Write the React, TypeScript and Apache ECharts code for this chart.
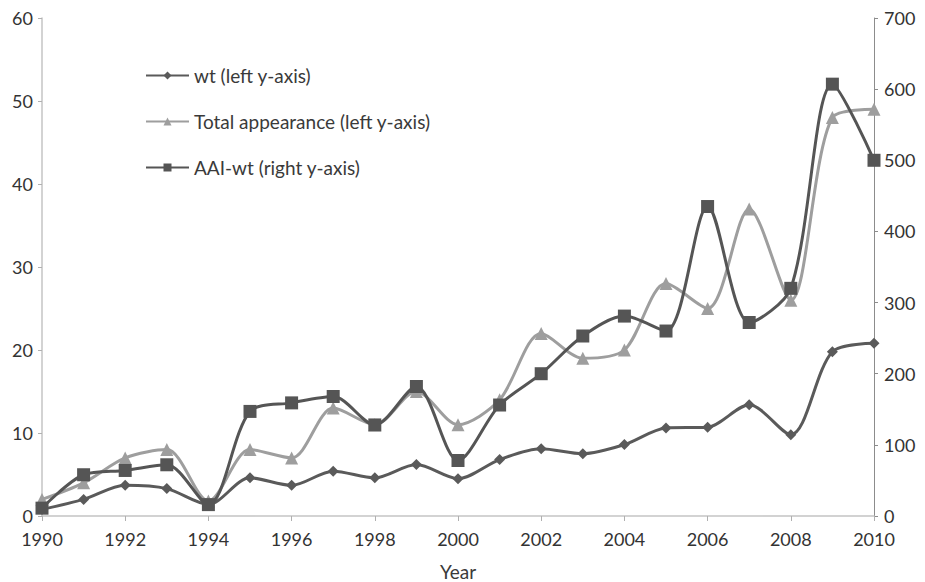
import React, { useEffect, useRef } from "react";
import * as echarts from "echarts";

const years = [1990, 1991, 1992, 1993, 1994, 1995, 1996, 1997, 1998, 1999, 2000, 2001, 2002, 2003, 2004, 2005, 2006, 2007, 2008, 2009, 2010];
const wt = [0.8, 2.0, 3.7, 3.3, 1.4, 4.6, 3.7, 5.4, 4.6, 6.2, 4.5, 6.8, 8.1, 7.5, 8.6, 10.6, 10.7, 13.4, 9.8, 19.8, 20.8];
const totalAppearance = [2, 4, 7, 8, 1.8, 8, 7, 13, 11, 15, 11, 14, 22, 19, 20, 28, 25, 37, 26, 48, 49];
const aaiWt = [11, 58, 64, 72, 16, 147, 159, 168, 128, 182, 78, 156, 200, 253, 281, 260, 435, 272, 320, 607, 500];

const seriesNames = ["wt (left y-axis)", "Total appearance (left y-axis)", "AAI-wt (right y-axis)"];

const FONT = "Lato, 'Open Sans', sans-serif";

export default function App() {
  const ref = useRef<HTMLDivElement>(null);
  useEffect(() => {
    if (!ref.current) return;
    const chart = echarts.init(ref.current, undefined, { renderer: "svg" });
    const pair = (arr: number[]) => years.map((y, i) => [y, arr[i]]);
    chart.setOption({
      animation: false,
      backgroundColor: "#ffffff",
      textStyle: { fontFamily: FONT },
      grid: { left: 42, right: 51, top: 18, bottom: 66, outerBoundsMode: "none", containLabel: false },
      legend: {
        orient: "vertical",
        left: 140,
        top: 61,
        itemGap: 27,
        itemWidth: 43,
        itemHeight: 10,
        textStyle: { fontSize: 19, color: "#3a3a3a", fontFamily: FONT },
        data: seriesNames,
      },
      xAxis: {
        type: "value",
        min: 1990,
        max: 2010,
        interval: 2,
        name: "Year",
        nameLocation: "middle",
        nameGap: 46,
        nameTextStyle: { fontSize: 19, color: "#3a3a3a", fontFamily: FONT },
        axisLine: { show: true, lineStyle: { color: "#c4c4c4", width: 1.5 } },
        axisTick: { show: true, length: 5, lineStyle: { color: "#b0b0b0" } },
        axisLabel: {
          fontSize: 18,
          color: "#333333",
          margin: 14,
          fontFamily: FONT,
          formatter: (v: number) => String(v),
        },
        splitLine: { show: false },
      },
      yAxis: [
        {
          type: "value",
          min: 0,
          max: 60,
          interval: 10,
          position: "left",
          axisLine: { show: true, lineStyle: { color: "#c4c4c4", width: 1.5 } },
          axisTick: { show: true, length: 4, lineStyle: { color: "#b0b0b0" } },
          axisLabel: { fontSize: 18, color: "#333333", margin: 9, fontFamily: FONT },
          splitLine: { show: false },
        },
        {
          type: "value",
          min: 0,
          max: 700,
          interval: 100,
          position: "right",
          axisLine: { show: true, lineStyle: { color: "#8c8c8c", width: 1 } },
          axisTick: { show: true, length: 4, lineStyle: { color: "#8c8c8c" } },
          axisLabel: { fontSize: 18, color: "#333333", margin: 10, fontFamily: FONT },
          splitLine: { show: false },
        },
      ],
      series: [
        {
          name: seriesNames[0],
          type: "line",
          yAxisIndex: 0,
          data: pair(wt),
          smooth: 0.3,
          symbol: "diamond",
          symbolSize: 11,
          lineStyle: { color: "#5a5a5a", width: 3 },
          itemStyle: { color: "#5a5a5a" },
          z: 2,
        },
        {
          name: seriesNames[1],
          type: "line",
          yAxisIndex: 0,
          data: pair(totalAppearance),
          smooth: 0.3,
          symbol: "triangle",
          symbolSize: 13,
          lineStyle: { color: "#9e9e9e", width: 3 },
          itemStyle: { color: "#9e9e9e" },
          z: 3,
        },
        {
          name: seriesNames[2],
          type: "line",
          yAxisIndex: 1,
          data: pair(aaiWt),
          smooth: 0.3,
          symbol: "rect",
          symbolSize: 13,
          lineStyle: { color: "#555555", width: 3 },
          itemStyle: { color: "#555555" },
          z: 4,
        },
      ],
    });
    return () => chart.dispose();
  }, []);
  return <div ref={ref} style={{ width: 925, height: 582, position: "absolute", left: 0, top: 0 }} />;
}
